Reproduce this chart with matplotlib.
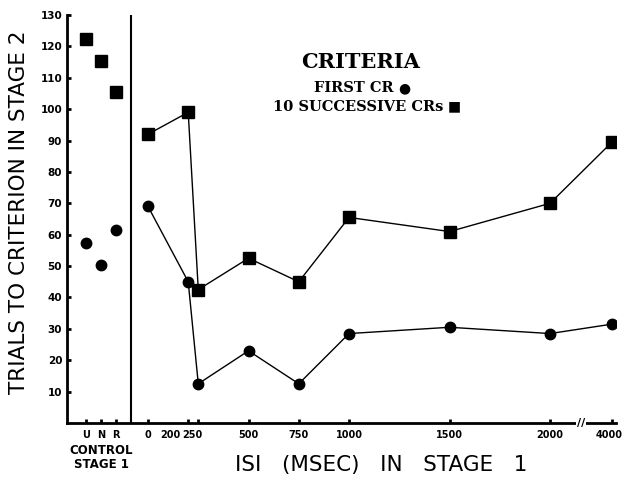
import matplotlib
matplotlib.use("Agg")
import matplotlib.pyplot as plt
import matplotlib.transforms as mtransforms

# control groups (stage 1)
control_labels = ["U", "N", "R"]
control_first_cr = [57.5, 50.5, 61.5]
control_10_crs = [122.5, 115.5, 105.5]

# ISI groups (msec)
isi = [0, 200, 250, 500, 750, 1000, 1500, 2000, 4000]
isi_first_cr = [69, 45, 12.5, 23, 12.5, 28.5, 30.5, 28.5, 31.5]
isi_10_crs = [92, 99, 42.5, 52.5, 45, 65.5, 61, 70, 89.5]

y_ticks = list(range(10, 140, 10))

W, H = 624, 479


def xpos(v):
    # axis is broken between 2000 and 4000
    return v if v <= 2000 else 2000 + 308


def ctrl_pos(i):
    return -308 + 75 * i


def px(x, y):
    # figure fraction from pixel position (top-left origin)
    return x / W, 1 - y / H


fig = plt.figure(figsize=(W / 100, H / 100), dpi=100)
ax = fig.add_axes([67 / W, 56 / H, 549 / W, 408 / H])

xs = [xpos(v) for v in isi]
cx = [ctrl_pos(i) for i in range(len(control_labels))]

ax.plot(xs, isi_10_crs, color="black", lw=1.0, marker="s", ms=8, zorder=3)
ax.plot(xs, isi_first_cr, color="black", lw=1.0, marker="o", ms=7.5, zorder=3)
ax.plot(cx, control_10_crs, ls="none", color="black", marker="s", ms=8)
ax.plot(cx, control_first_cr, ls="none", color="black", marker="o", ms=7.5)

ax.set_xlim(-403, 2328)
ax.set_ylim(0, 130)
ax.axvline(-85, color="black", lw=1.5)

for s in ["top", "right"]:
    ax.spines[s].set_visible(False)
for s in ["left", "bottom"]:
    ax.spines[s].set_linewidth(2)

ax.set_yticks(y_ticks)
ax.set_yticklabels([str(t) for t in y_ticks], fontsize=7.5, fontweight="bold")
ax.set_xticks(cx + xs)
ax.set_xticklabels(control_labels + [str(v) for v in isi], fontsize=7,
                   fontweight="bold")
ax.tick_params(direction="in", length=3, width=2)
ax.tick_params(axis="x", pad=5)

# crowded labels near 200/250 are shifted left like in the original
shifts = {"200": -18, "250": -6, "4000": -3}
for lab in ax.get_xticklabels():
    dx = shifts.get(lab.get_text(), 0)
    if dx:
        lab.set_transform(lab.get_transform() +
                          mtransforms.ScaledTranslation(dx / 100, 0, fig.dpi_scale_trans))

# axis break
ax.text(2153, 0, "//", ha="center", va="center", fontsize=8, fontweight="bold",
        bbox=dict(facecolor="white", edgecolor="none", pad=0.5))

fig.text(*px(101, 451), "CONTROL", ha="center", va="center", fontsize=8.5,
         fontweight="bold")
fig.text(*px(101, 465), "STAGE 1", ha="center", va="center", fontsize=8.5,
         fontweight="bold")

fig.text(*px(19, 212), "TRIALS TO CRITERION IN STAGE 2", rotation=90,
         ha="center", va="center", fontsize=15.5)
fig.text(*px(381, 465), "ISI   (MSEC)   IN   STAGE   1", ha="center",
         va="center", fontsize=15.5)

# legend text
serif = dict(fontweight="bold", family="DejaVu Serif", va="center")
fig.text(*px(361, 62), "CRITERIA", ha="center", fontsize=15, **serif)
fig.text(*px(394, 88), "FIRST CR", ha="right", fontsize=10.5, **serif)
fig.text(*px(404, 88), "\u25cf", ha="center", fontsize=10, **serif)
fig.text(*px(443, 107), "10 SUCCESSIVE CRs", ha="right", fontsize=10.5, **serif)
fig.text(*px(454, 106), "\u25a0", ha="center", fontsize=10, **serif)

fig.savefig("out.png", dpi=100)
